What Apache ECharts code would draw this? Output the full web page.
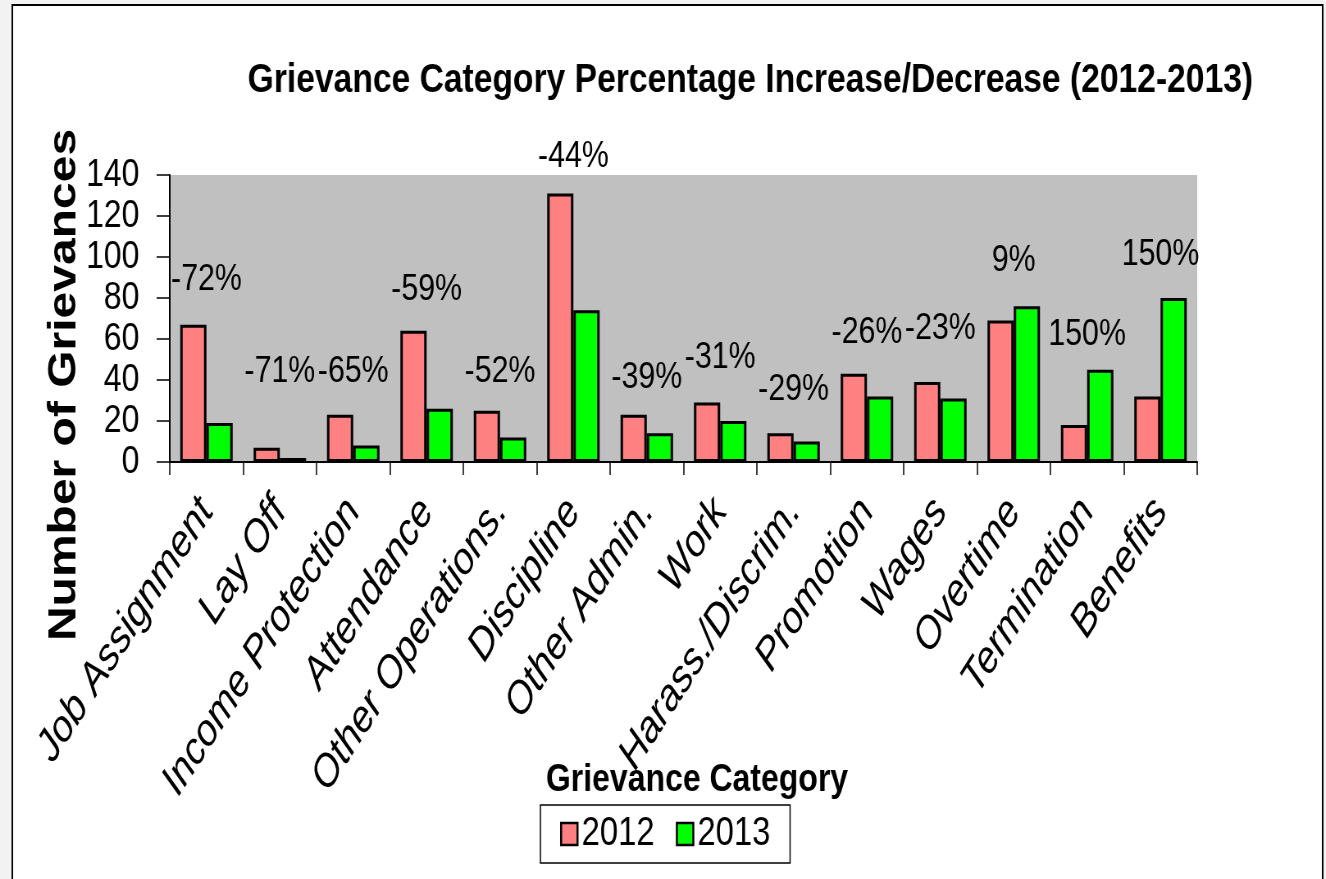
<!DOCTYPE html>
<html>
<head>
<meta charset="utf-8">
<script src="https://cdn.jsdelivr.net/npm/echarts@6/dist/echarts.min.js"></script>
<style>
html, body { margin: 0; padding: 0; background: #f2f2f2; overflow: hidden; }
/* the original uses a narrow face; squeeze the whole chart horizontally */
#main { width: 1617px; height: 879px; transform: scaleX(0.82); transform-origin: 0 0; }
</style>
</head>
<body>
<div id="main"></div>
<script>
var categories = ['Job Assignment', 'Lay Off', 'Income Protection', 'Attendance', 'Other Operations.',
  'Discipline', 'Other Admin.', 'Work', 'Harass./Discrim.', 'Promotion', 'Wages', 'Overtime',
  'Termination', 'Benefits'];
var y2012 = [67, 7, 23, 64, 25, 131, 23, 29, 14, 43, 39, 69, 18, 32];
var y2013 = [19, 2, 8, 26, 12, 74, 14, 20, 10, 32, 31, 76, 45, 80];
var pctLabels = ['-72%', '-71%', '-65%', '-59%', '-52%', '-44%', '-39%', '-31%', '-29%', '-26%', '-23%', '9%', '150%', '150%'];
// height (in grievances) where each percentage label sits
var pctHeight = [89, 44, 44, 84, 44, 149, 41, 51, 35, 63, 65, 98, 62, 101];

var font = "'Liberation Sans', Arial, sans-serif";

var myChart = echarts.init(document.getElementById('main'));
var option = {
  backgroundColor: 'transparent',
  animation: false,
  title: {
    text: 'Grievance Category Percentage Increase/Decrease (2012-2013)',
    left: 297,
    top: 55,
    textStyle: { fontFamily: font, fontSize: 41, fontWeight: 'bold', color: '#000' }
  },
  legend: {
    data: ['2012', '2013'],
    left: 659,
    top: 805,
    padding: [9, 24, 9, 24],
    itemGap: 26,
    itemWidth: 20,
    itemHeight: 22,
    borderColor: '#000',
    borderWidth: 1.5,
    backgroundColor: '#fff',
    icon: 'rect',
    itemStyle: { borderColor: '#000', borderWidth: 2.5 },
    textStyle: { fontFamily: font, fontSize: 40, color: '#000' }
  },
  grid: {
    left: 207,
    right: 157,
    top: 175,
    bottom: 417,
    show: true,
    backgroundColor: '#c0c0c0',
    borderWidth: 0
  },
  xAxis: {
    type: 'category',
    data: categories,
    axisLine: { lineStyle: { color: '#000', width: 2 } },
    axisTick: { show: true, length: 13, lineStyle: { color: '#000', width: 1.5 } },
    axisLabel: {
      rotate: 52,
      margin: 42,
      interval: 0,
      fontFamily: font,
      fontStyle: 'italic',
      fontSize: 45,
      color: '#000'
    }
  },
  yAxis: {
    type: 'value',
    min: 0,
    max: 140,
    interval: 20,
    splitLine: { show: false },
    axisLine: { show: true, lineStyle: { color: '#000', width: 2 } },
    axisTick: { show: true, length: 16, lineStyle: { color: '#000', width: 1.5 } },
    axisLabel: {
      margin: 37,
      fontFamily: font,
      fontSize: 39,
      color: '#000'
    }
  },
  graphic: [
    {
      type: 'rect',
      z: -10,
      shape: { x: 15, y: 5, width: 1598, height: 890 },
      style: { fill: '#fff', stroke: '#000', lineWidth: 2 }
    },
    {
      type: 'text',
      x: 79,
      y: 385,
      rotation: Math.PI / 2,
      style: {
        text: 'Number of Grievances',
        font: 'bold 48px ' + font,
        fill: '#000',
        textAlign: 'center',
        textVerticalAlign: 'middle'
      }
    },
    {
      type: 'text',
      x: 850,
      y: 780,
      style: {
        text: 'Grievance Category',
        font: 'bold 39px ' + font,
        fill: '#000',
        textAlign: 'center',
        textVerticalAlign: 'middle'
      }
    }
  ],
  series: [
    {
      name: '2012',
      type: 'bar',
      data: y2012,
      barWidth: 32,
      barGap: '0%',
      itemStyle: { color: '#ff8080', borderColor: '#000', borderWidth: 3 }
    },
    {
      name: '2013',
      type: 'bar',
      data: y2013,
      barWidth: 32,
      itemStyle: { color: '#00ff00', borderColor: '#000', borderWidth: 3 }
    },
    {
      name: 'pct',
      type: 'scatter',
      data: pctHeight.map(function (h, i) { return [categories[i], h]; }),
      symbolSize: 0,
      clip: false,
      itemStyle: { color: '#000', opacity: 1 },
      z: 5,
      label: {
        show: true,
        position: 'inside',
        formatter: function (p) { return pctLabels[p.dataIndex]; },
        fontFamily: font,
        fontSize: 37,
        color: '#000',
        opacity: 1,
        textBorderWidth: 0
      }
    }
  ]
};
myChart.setOption(option);
</script>
</body>
</html>
